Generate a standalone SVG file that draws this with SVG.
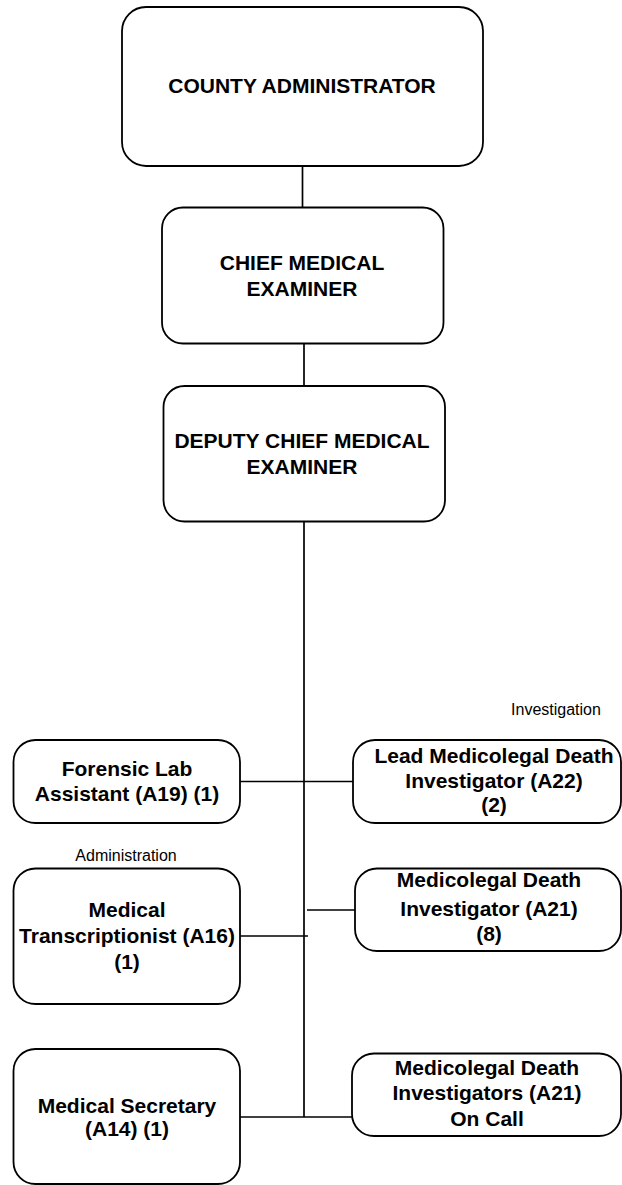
<svg xmlns="http://www.w3.org/2000/svg" width="622" height="1185" viewBox="0 0 622 1185">
<style>
.box{fill:#fff;stroke:#000;stroke-width:1.8}
.t{font-family:"Liberation Sans",Arial,sans-serif;font-weight:bold;font-size:21px;fill:#000;text-anchor:middle}
.lbl{font-family:"Liberation Sans",Arial,sans-serif;font-size:16px;fill:#000;text-anchor:middle}
.c{stroke:#000;stroke-width:1.7;fill:none}
</style>
<rect width="622" height="1185" fill="#fff"/>
<g id="connectors">
<line class="c" x1="302.5" y1="166" x2="302.5" y2="207.5"/>
<line class="c" x1="304" y1="343" x2="304" y2="386"/>
<line class="c" x1="304" y1="521.5" x2="304" y2="1117"/>
<line class="c" x1="240" y1="781.5" x2="353" y2="781.5"/>
<line class="c" x1="307" y1="910" x2="355" y2="910"/>
<line class="c" x1="240" y1="936" x2="308" y2="936"/>
<line class="c" x1="240" y1="1117" x2="352" y2="1117"/>
</g>
<g id="county-administrator">
<rect class="box" x="122" y="7" width="361" height="159" rx="24"/>
<text class="t" x="302" y="93">COUNTY ADMINISTRATOR</text>
</g>
<g id="chief-medical-examiner">
<rect class="box" x="162" y="207.5" width="281.5" height="136" rx="21"/>
<text class="t" x="302" y="269.5">CHIEF MEDICAL</text>
<text class="t" x="302" y="295.5">EXAMINER</text>
</g>
<g id="deputy-chief-medical-examiner">
<rect class="box" x="163.5" y="386" width="281.5" height="135.5" rx="21"/>
<text class="t" x="302" y="447.5">DEPUTY CHIEF MEDICAL</text>
<text class="t" x="302" y="473.5">EXAMINER</text>
</g>
<g id="forensic-lab-assistant">
<rect class="box" x="13.5" y="740" width="226.5" height="83" rx="22"/>
<text class="t" x="127" y="776">Forensic Lab</text>
<text class="t" x="127" y="801">Assistant (A19) (1)</text>
</g>
<g id="label-administration">
<text class="lbl" x="126" y="860.5">Administration</text>
</g>
<g id="medical-transcriptionist">
<rect class="box" x="13.5" y="868.5" width="226.5" height="135.5" rx="22"/>
<text class="t" x="127" y="917">Medical</text>
<text class="t" x="127" y="943">Transcriptionist (A16)</text>
<text class="t" x="127" y="968.5">(1)</text>
</g>
<g id="medical-secretary">
<rect class="box" x="13.5" y="1049" width="226.5" height="135" rx="22"/>
<text class="t" x="127" y="1112.5">Medical Secretary</text>
<text class="t" x="127" y="1136">(A14) (1)</text>
</g>
<g id="label-investigation">
<text class="lbl" x="556" y="715">Investigation</text>
</g>
<g id="lead-medicolegal-death-investigator">
<rect class="box" x="353" y="740" width="268" height="83" rx="22"/>
<text class="t" x="494" y="762.5">Lead Medicolegal Death</text>
<text class="t" x="494" y="788">Investigator (A22)</text>
<text class="t" x="494" y="812">(2)</text>
</g>
<g id="medicolegal-death-investigator">
<rect class="box" x="355" y="868.5" width="266" height="82.5" rx="22"/>
<text class="t" x="489" y="886.5">Medicolegal Death</text>
<text class="t" x="489" y="916">Investigator (A21)</text>
<text class="t" x="489" y="940.5">(8)</text>
</g>
<g id="medicolegal-death-investigators-on-call">
<rect class="box" x="352" y="1053.5" width="269" height="82.5" rx="22"/>
<text class="t" x="487" y="1075">Medicolegal Death</text>
<text class="t" x="487" y="1100">Investigators (A21)</text>
<text class="t" x="487" y="1126">On Call</text>
</g>
</svg>
